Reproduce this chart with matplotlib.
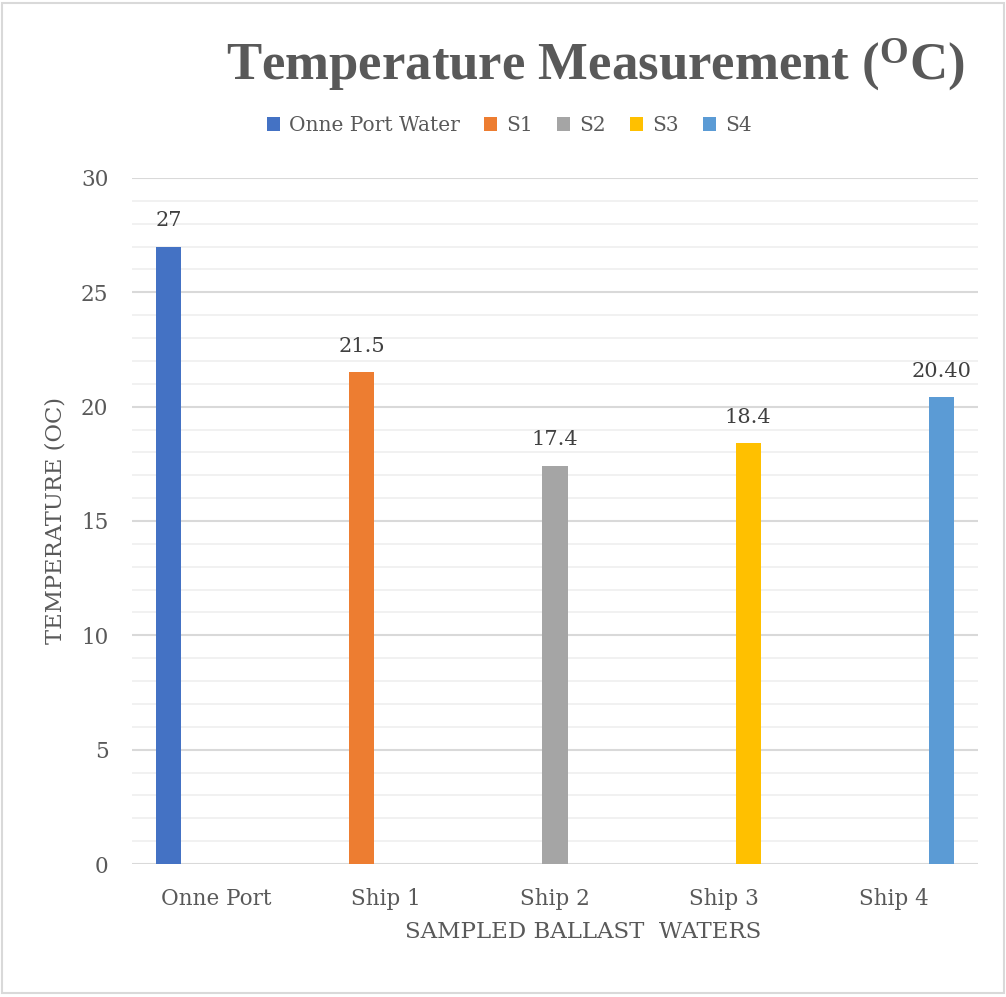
import matplotlib
matplotlib.use("Agg")
import matplotlib.pyplot as plt
from matplotlib.patches import Rectangle, Patch
import numpy as np

plt.rcParams["mathtext.fontset"] = "custom"
plt.rcParams["mathtext.rm"] = "Liberation Serif:bold"
plt.rcParams["mathtext.it"] = "Liberation Serif:bold"
plt.rcParams["mathtext.bf"] = "Liberation Serif:bold"

categories = ["Onne Port", "Ship 1", "Ship 2", "Ship 3", "Ship 4"]
series_names = ["Onne Port Water", "S1", "S2", "S3", "S4"]
values = [27, 21.5, 17.4, 18.4, 20.4]
value_labels = ["27", "21.5", "17.4", "18.4", "20.40"]
colors = ["#4472C4", "#ED7D31", "#A5A5A5", "#FFC000", "#5B9BD5"]
yticks = [0, 5, 10, 15, 20, 25, 30]

TXT = "#595959"
SERIF = "DejaVu Serif"

fig = plt.figure(figsize=(10.06, 9.97), dpi=100)
fig.patches.append(Rectangle((0.002, 0.004), 0.996, 0.993, transform=fig.transFigure,
                             fill=False, edgecolor="#d9d9d9", linewidth=1.5))

ax = fig.add_axes([0.1312, 0.1334, 0.8410, 0.6881])
ax.set_xlim(-0.5, 4.5)
ax.set_ylim(0, 30)

# grid
for y in np.arange(0, 31, 1):
    if y % 5 == 0:
        ax.axhline(y, color="#d9d9d9", linewidth=1.5, zorder=1)
    else:
        ax.axhline(y, color="#f0f0f0", linewidth=1.3, zorder=1)

slot = 0.142
width = 0.150
handles = []
for i, (name, v, lab, c) in enumerate(zip(series_names, values, value_labels, colors)):
    x = i + (i - 2) * slot
    bars = ax.bar([x], [v], width=width, color=c, zorder=2)
    ax.bar_label(bars, labels=[lab], padding=12, fontsize=15, color="#404040",
                 family=SERIF)
    handles.append(Patch(facecolor=c, edgecolor="none", label=name))

ax.set_xticks(range(len(categories)))
ax.set_xticklabels(categories, fontsize=15.5, color=TXT, family=SERIF)
ax.set_yticks(yticks)
ax.set_yticklabels([str(t) for t in yticks], fontsize=15.5, color=TXT, family=SERIF)
ax.tick_params(axis="both", length=0)
ax.tick_params(axis="x", pad=17)
ax.tick_params(axis="y", pad=17)
for s in ax.spines.values():
    s.set_visible(False)

ax.set_ylabel("TEMPERATURE (OC)", fontsize=16.3, color=TXT, family=SERIF, labelpad=10)
ax.set_xlabel("SAMPLED BALLAST  WATERS", fontsize=16.5, color=TXT, family=SERIF)
ax.xaxis.set_label_coords(0.533, -0.083)

fig.text(0.592, 0.935, r"Temperature Measurement ($^{\mathrm{O}}$C)",
         ha="center", va="center", fontsize=38, fontweight="bold",
         family="Liberation Serif", color=TXT)

fig.legend(handles=handles, loc="center", bbox_to_anchor=(0.506, 0.874), ncol=5,
           frameon=False, prop={"family": SERIF, "size": 14.5},
           labelcolor=TXT, handlelength=0.65, handleheight=0.65,
           handletextpad=0.45, columnspacing=1.2)

fig.savefig("out.png", dpi=100)
